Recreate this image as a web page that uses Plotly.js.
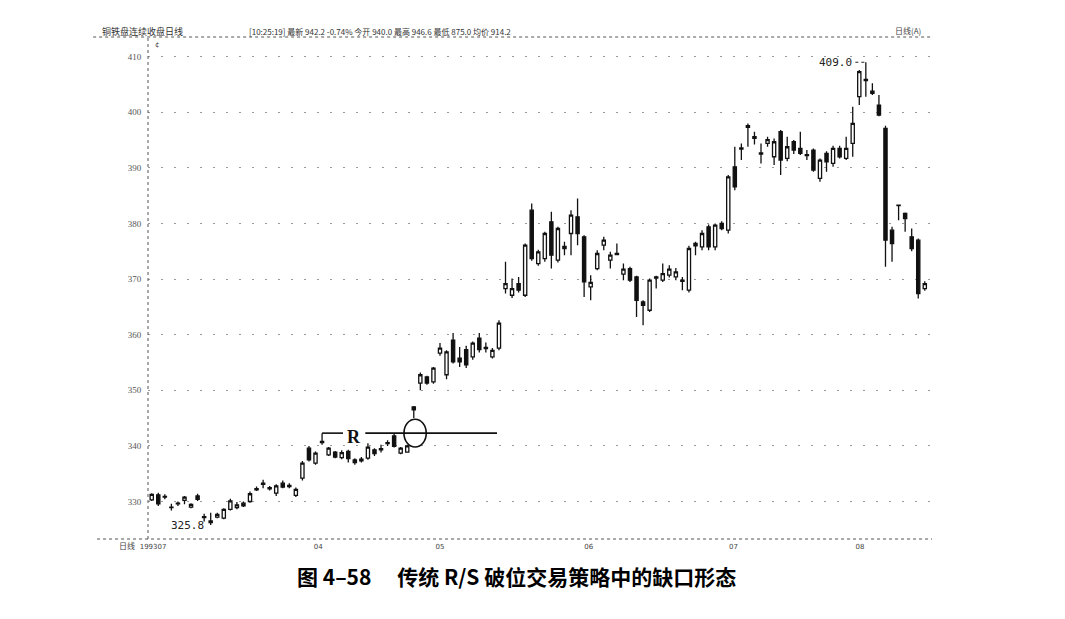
<!DOCTYPE html>
<html><head><meta charset="utf-8">
<script src="https://cdn.plot.ly/plotly-3.0.1.min.js"></script>
<style>html,body{margin:0;padding:0;background:#fff;}#chart{width:1065px;height:619px;}</style>
</head><body><div id="chart"></div>
<script>
const openP = [
330.3,331.2,330.9,329.0,329.6,330.2,329.0,331.0,327.3,326.2,
327.2,327.0,328.6,328.9,329.7,330.0,332.1,333.1,332.3,331.5,
333.3,332.7,331.1,334.2,339.6,336.9,340.6,338.4,338.9,337.9,
339.0,337.5,337.3,337.8,339.3,339.3,340.4,341.8,338.7,338.9,
347.0,351.3,352.4,351.5,356.7,352.8,359.0,355.8,357.3,356.0,
359.4,357.5,356.0,357.6,368.3,367.1,369.2,367.1,382.4,372.8,
373.7,380.3,373.4,375.9,378.2,381.2,377.6,368.6,371.9,376.1,
373.4,374.4,370.9,371.9,370.4,365.9,364.4,370.2,369.8,370.7,
370.4,369.8,368.0,376.0,375.8,379.4,375.8,380.0,378.8,390.2,
393.4,397.6,395.6,392.7,394.4,392.0,396.5,391.7,394.7,393.5,
392.4,393.2,388.1,392.6,390.8,393.5,391.7,394.4,402.8,405.9,
403.8,401.3,397.1,378.8,383.2,381.8,377.6,377.0,368.3];
const highP = [
331.5,331.6,331.3,329.6,330.0,331.0,329.7,331.4,327.8,328.0,
328.0,328.8,330.5,329.9,330.0,331.8,332.7,333.9,332.8,333.1,
333.8,333.3,332.5,337.3,340.0,339.0,342.3,339.8,339.1,339.2,
339.3,337.8,338.0,340.5,339.6,340.2,341.0,342.2,339.8,340.2,
347.2,353.2,352.6,354.2,358.5,357.2,360.3,357.8,358.0,358.8,
360.3,358.6,357.6,362.6,373.1,370.1,370.4,376.4,383.6,375.3,
378.5,382.1,379.4,376.7,382.4,384.5,377.9,370.7,375.2,377.6,
374.9,376.4,372.8,372.2,370.6,366.2,370.1,370.6,372.8,372.5,
372.0,370.4,376.0,376.7,378.8,379.8,380.0,380.4,388.7,393.8,
394.4,398.0,396.5,394.4,395.6,395.3,396.8,395.6,395.0,396.5,
393.2,393.5,391.7,393.0,394.0,394.0,395.6,401.0,407.6,409.0,
405.2,403.1,397.6,379.4,383.4,382.0,379.1,377.3,369.6];
const lowP = [
330.1,329.2,330.4,328.4,329.2,329.5,328.8,330.1,326.4,325.8,
327.0,326.8,328.4,328.6,329.0,329.8,331.9,332.4,332.0,331.0,
332.4,332.4,330.8,333.8,337.2,336.6,340.2,338.2,337.8,337.6,
337.0,336.6,337.0,337.5,338.2,338.8,340.0,339.7,338.5,338.8,
345.0,350.0,351.0,351.2,356.2,352.0,354.8,354.2,354.0,355.5,
356.8,356.8,355.7,357.2,367.4,366.6,367.6,366.8,373.3,372.4,
373.1,371.9,373.0,374.3,374.3,376.1,366.8,366.2,371.6,375.2,
371.9,374.3,369.8,369.5,363.2,361.7,364.1,368.3,369.5,370.3,
369.8,368.0,367.6,374.3,375.2,375.2,375.2,378.8,378.2,386.0,
391.4,393.8,394.2,390.8,393.8,390.5,388.7,391.2,392.5,392.3,
391.4,389.3,387.5,389.3,390.2,391.7,391.4,392.0,401.3,402.8,
403.1,399.3,372.2,373.1,380.6,378.5,375.0,366.5,367.9];
const closeP = [
331.3,329.6,330.8,328.9,329.7,330.8,329.5,330.4,327.1,326.5,
327.7,328.6,330.1,329.4,329.2,331.4,332.3,333.3,332.5,332.8,
332.6,332.9,332.2,336.9,337.5,338.7,340.8,339.6,338.0,338.8,
337.7,337.0,337.6,339.8,338.6,339.5,340.6,339.9,339.6,340.0,
346.5,352.8,351.3,354.0,357.6,356.9,355.1,355.1,354.6,358.5,
357.3,357.7,357.2,362.1,369.2,368.3,368.0,376.1,373.7,374.9,
378.2,374.3,379.1,375.5,381.5,378.2,369.5,369.4,374.6,377.0,
374.3,374.6,371.8,369.8,366.2,365.3,369.8,370.4,371.0,371.8,
371.3,369.6,375.5,376.4,378.2,375.8,379.7,379.1,388.4,386.6,
393.6,397.3,395.3,392.5,395.1,394.7,391.4,393.8,393.2,392.6,
392.2,389.6,391.4,391.1,393.5,392.0,393.5,398.0,407.3,405.7,
403.4,399.5,377.0,376.4,383.3,380.9,375.5,367.4,369.2];
const monthTickIdx = [0.2, 25.4, 44.0, 66.7, 88.8, 108.1];
const monthTickText = ['199307', '04', '05', '06', '07', '08'];
const priceTicks = [330, 340, 350, 360, 370, 380, 390, 400, 410];
const lowMarkValue = 325.8;
const highMarkValue = 409.0;
const resistanceLevel = 342.3;

const days = openP.map((_, i) => i);

const trace = {
  type: 'candlestick',
  x: days, open: openP, high: highP, low: lowP, close: closeP,
  increasing: {line: {color: '#111', width: 1.3}, fillcolor: '#ffffff'},
  decreasing: {line: {color: '#111', width: 1.3}, fillcolor: '#111111'},
  whiskerwidth: 0,
  hoverinfo: 'skip'
};

const lowIdx = lowP.indexOf(Math.min(...lowP));
const highIdx = highP.indexOf(Math.max(...highP));
const rIdx = 26;

const layout = {
  width: 1065, height: 619,
  margin: {l: 148, r: 133, t: 40, b: 80},
  paper_bgcolor: '#fff', plot_bgcolor: '#fff',
  showlegend: false,
  font: {family: 'DejaVu Sans', color: '#333'},
  xaxis: {
    type: 'linear', range: [-0.57, 119.1],
    rangeslider: {visible: false},
    tickvals: monthTickIdx, ticktext: monthTickText,
    tickfont: {size: 7, color: '#444', family: 'DejaVu Sans'},
    ticks: 'outside', ticklen: 1, tickcolor: 'rgba(0,0,0,0)',
    showgrid: false, zeroline: false, showline: false
  },
  yaxis: {
    range: [323.26, 413.0],
    tickvals: priceTicks,
    tickfont: {size: 9, color: '#555', family: 'Liberation Serif'},
    ticks: 'outside', ticklen: 4, tickcolor: 'rgba(0,0,0,0)',
    showgrid: true, gridcolor: '#9a9a9a', griddash: '2px,11px', gridwidth: 1,
    zeroline: false, showline: false
  },
  shapes: [
    {type: 'line', xref: 'paper', yref: 'paper', x0: 0, x1: 0, y0: 0, y1: 1.006,
     line: {color: '#555', width: 1, dash: 'dot'}},
    {type: 'line', xref: 'paper', yref: 'paper', x0: -0.065, x1: 1.0, y0: 0, y1: 0,
     line: {color: '#555', width: 1, dash: 'dot'}},
    {type: 'line', xref: 'paper', yref: 'paper', x0: -0.07, x1: 1.0, y0: 1.006, y1: 1.006,
     line: {color: '#555', width: 1, dash: 'dot'}},
    {type: 'line', xref: 'x', yref: 'y', x0: rIdx, x1: 29.2, y0: resistanceLevel, y1: resistanceLevel,
     line: {color: '#111', width: 1.6}},
    {type: 'line', xref: 'x', yref: 'y', x0: 32.6, x1: 52.7, y0: resistanceLevel, y1: resistanceLevel,
     line: {color: '#111', width: 1.6}},
    {type: 'circle', xref: 'x', yref: 'y', x0: 38.5, x1: 41.9, y0: 339.8, y1: 344.8,
     line: {color: '#111', width: 1.6}},
    {type: 'line', xref: 'x', yref: 'y', x0: highIdx - 1.6, x1: highIdx, y0: highMarkValue, y1: highMarkValue,
     line: {color: '#222', width: 1, dash: 'dot'}}
  ],
  annotations: [
    {xref: 'x', yref: 'y', x: lowIdx - 3.6, y: lowMarkValue - 0.2, text: lowMarkValue.toFixed(1),
     showarrow: false, font: {family: 'DejaVu Sans Mono', size: 11, color: '#222'}},
    {xref: 'x', yref: 'y', x: highIdx - 1.8, y: highMarkValue, text: highMarkValue.toFixed(1),
     xanchor: 'right', showarrow: false, font: {family: 'DejaVu Sans Mono', size: 11, color: '#222'}},
    {xref: 'x', yref: 'y', x: 30.8, y: 341.6, text: '<b>R</b>', showarrow: false,
     font: {family: 'Liberation Serif', size: 18, color: '#111'}},
    {xref: 'paper', yref: 'paper', x: -0.0135, y: -0.013, text: '日线', showarrow: false,
     xanchor: 'right', yanchor: 'middle', font: {family: 'Noto Sans CJK SC', size: 8, color: '#444'}},
    {xref: 'paper', yref: 'paper', x: 0.006, y: 0.99, text: '¢', showarrow: false,
     xanchor: 'left', yanchor: 'middle', font: {size: 7, color: '#444'}},
    {xref: 'paper', yref: 'paper', x: -0.061, y: 1.018, text: '铜铁盘连续收盘日线', showarrow: false,
     xanchor: 'left', yanchor: 'middle', font: {family: 'Noto Sans CJK SC', size: 9, color: '#333'}},
    {xref: 'paper', yref: 'paper', x: 0.126, y: 1.018,
     text: '[10:25:19] 最新 942.2 -0.74% 今开 940.0 最高 946.6 最低 875.0 均价 914.2',
     showarrow: false, xanchor: 'left', yanchor: 'middle',
     font: {family: 'Noto Sans CJK SC', size: 8, color: '#333'}},
    {xref: 'paper', yref: 'paper', x: 0.97, y: 1.02, text: '日线(A)', showarrow: false,
     xanchor: 'center', yanchor: 'middle', font: {family: 'Noto Sans CJK SC', size: 8, color: '#444'}},
    {xref: 'paper', yref: 'paper', x: 0.470, y: -0.074,
     text: '<b>图 4–58\u3000 传统 R/S 破位交易策略中的缺口形态</b>',
     showarrow: false, xanchor: 'center', yanchor: 'middle',
     font: {family: 'Noto Sans CJK SC', size: 21, color: '#000'}}
  ]
};

Plotly.newPlot('chart', [trace], layout, {staticPlot: true, displayModeBar: false});
</script></body></html>
